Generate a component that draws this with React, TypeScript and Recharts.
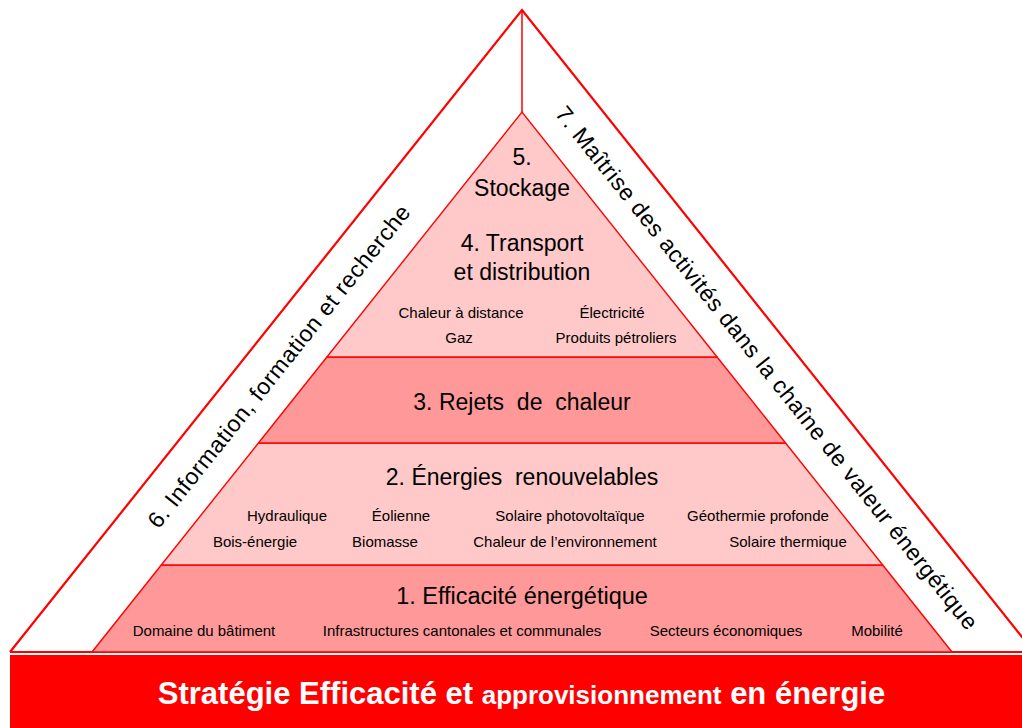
import React from 'react';
import { ComposedChart, XAxis, YAxis, Area, Scatter, ReferenceLine, ReferenceArea } from 'recharts';

// ---------- content ----------
const strategyTitle = ['Stratégie Efficacité et', 'approvisionnement', 'en énergie'];
const sideLeft = '6. Information, formation et recherche';
const sideRight = '7. Maîtrise des activités dans la chaîne de valeur énergétique';

// layers from base to apex; boundaries are heights above the pyramid base (diagram units)
const layerNames = ['1. Efficacité énergétique', '2. Énergies  renouvelables', '3. Rejets  de  chaleur', '4. Transport|et distribution'];
const layerBounds = [0, 87, 209, 295, 540];
const layerShades = ['dark', 'light', 'dark', 'light'];
const apexTitle = ['5.', 'Stockage'];

const efficiencyItems = ['Domaine du bâtiment', 'Infrastructures cantonales et communales', 'Secteurs économiques', 'Mobilité'];
const renewablesRow1 = ['Hydraulique', 'Éolienne', 'Solaire photovoltaïque', 'Géothermie profonde'];
const renewablesRow2 = ['Bois-énergie', 'Biomasse', 'Chaleur de l\u2019environnement', 'Solaire thermique'];
const transportRow1 = ['Chaleur à distance', 'Électricité'];
const transportRow2 = ['Gaz', 'Produits pétroliers'];

// ---------- layout (diagram units: origin at centre of pyramid base, y upwards) ----------
const W = 1022;
const H = 728;
const X_DOMAIN: [number, number] = [-522, 500];
const Y_DOMAIN: [number, number] = [-76, 652];
const PYR_H = 540;
const PYR_HALF = 430;
const FRAME_H = 642;
const FRAME_HALF = 512;
const BAR = { x1: -512, x2: 500, y1: -76, y2: -3 };

const efficiencyX = [-318, -60, 204, 355];
const renew1X = [-235, -121, 48, 236];
const renew2X = [-267, -137, 43, 266];
const transport1X = [-61, 90];
const transport2X = [-63, 94];

const COLORS = { dark: '#ff9999', light: '#ffc9c9', red: '#ff0000' };
const FONT = '"Liberation Sans", Arial, Helvetica, sans-serif';
const ANGLE = (Math.atan2(FRAME_H, FRAME_HALF) * 180) / Math.PI;

const halfAt = (h: number) => PYR_HALF * (1 - h / PYR_H);

const layerPolys = layerNames.map((_, i) => {
  const b = layerBounds[i];
  const t = layerBounds[i + 1];
  return [
    { x: -halfAt(b), r: [b, b] },
    { x: -halfAt(t), r: [b, t] },
    { x: halfAt(t), r: [b, t] },
    { x: halfAt(b), r: [b, b] },
  ];
});

const frame = [
  { x: -FRAME_HALF, r: [0, 0] },
  { x: 0, r: [0, FRAME_H] },
  { x: FRAME_HALF, r: [0, 0] },
];

type Lbl = { x: number; y: number; text: string | string[]; size: number; kind?: string; rot?: number };

const labels: Lbl[] = [
  { x: 0, y: 487, text: apexTitle[0], size: 23 },
  { x: 0, y: 456, text: apexTitle[1], size: 23 },
  { x: 0, y: 401, text: layerNames[3].split('|')[0], size: 23 },
  { x: 0, y: 372, text: layerNames[3].split('|')[1], size: 23 },
  ...transportRow1.map((t, i) => ({ x: transport1X[i], y: 334, text: t, size: 15 })),
  ...transportRow2.map((t, i) => ({ x: transport2X[i], y: 309, text: t, size: 15 })),
  { x: 0, y: 242.5, text: layerNames[2], size: 23 },
  { x: 0, y: 167, text: layerNames[1], size: 23 },
  ...renewablesRow1.map((t, i) => ({ x: renew1X[i], y: 131, text: t, size: 15 })),
  ...renewablesRow2.map((t, i) => ({ x: renew2X[i], y: 105, text: t, size: 15 })),
  { x: 0, y: 48, text: layerNames[0], size: 23.5 },
  ...efficiencyItems.map((t, i) => ({ x: efficiencyX[i], y: 16, text: t, size: 15 })),
];

const sideLabels: Lbl[] = [
  { x: -243, y: 286, text: sideLeft, size: 23, rot: -ANGLE },
  { x: 245, y: 284, text: sideRight, size: 23, rot: ANGLE },
];

const barLabel: Lbl[] = [{ x: -0.5, y: -52, text: strategyTitle, size: 31, kind: 'bar' }];

const TextShape = (props: any) => {
  const { cx, cy, payload } = props;
  if (cx == null || cy == null) return null;
  const p = payload as Lbl;
  if (p.kind === 'bar') {
    const t = p.text as string[];
    return (
      <text x={cx} y={cy} textAnchor="middle" fill="#ffffff" fontFamily={FONT} fontWeight="bold" fontSize={p.size}>
        <tspan>{t[0] + ' '}</tspan>
        <tspan fontSize={26}>{t[1]}</tspan>
        <tspan>{' ' + t[2]}</tspan>
      </text>
    );
  }
  if (p.rot) {
    return (
      <text
        x={cx}
        y={cy}
        textAnchor="middle"
        dominantBaseline="central"
        transform={`rotate(${p.rot}, ${cx}, ${cy})`}
        fill="#000"
        fontFamily={FONT}
        fontSize={p.size}
        letterSpacing={0.6}
      >
        {p.text as string}
      </text>
    );
  }
  return (
    <text x={cx} y={cy} textAnchor="middle" fill="#000" fontFamily={FONT} fontSize={p.size} style={{ whiteSpace: 'pre' }}>
      {p.text as string}
    </text>
  );
};

export default function App() {
  return (
    <div style={{ position: 'absolute', left: 0, top: 0, width: W, height: H, background: '#fff' }}>
      <ComposedChart width={W} height={H} margin={{ top: 0, right: 0, bottom: 0, left: 0 }}>
        <XAxis type="number" dataKey="x" domain={X_DOMAIN} allowDataOverflow hide />
        <YAxis type="number" domain={Y_DOMAIN} allowDataOverflow hide />
        <Area
          data={frame}
          dataKey="r"
          type="linear"
          fill="#ffffff"
          fillOpacity={1}
          stroke={COLORS.red}
          strokeWidth={2.2}
          isAnimationActive={false}
          dot={false}
          activeDot={false}
        />
        <ReferenceLine
          segment={[
            { x: 0, y: PYR_H },
            { x: 0, y: FRAME_H },
          ]}
          stroke={COLORS.red}
          strokeWidth={1.5}
          ifOverflow="visible"
        />
        {layerPolys.map((poly, i) => (
          <Area
            key={i}
            data={poly}
            dataKey="r"
            type="linear"
            fill={COLORS[layerShades[i] as 'dark' | 'light']}
            fillOpacity={1}
            stroke={COLORS.red}
            strokeWidth={1.4}
            isAnimationActive={false}
            dot={false}
            activeDot={false}
          />
        ))}
        <ReferenceArea
          x1={BAR.x1}
          x2={BAR.x2}
          y1={BAR.y1}
          y2={BAR.y2}
          fill={COLORS.red}
          fillOpacity={1}
          stroke="none"
          ifOverflow="visible"
        />
        <Scatter data={labels} dataKey="y" shape={TextShape} isAnimationActive={false} />
        <Scatter data={sideLabels} dataKey="y" shape={TextShape} isAnimationActive={false} />
        <Scatter data={barLabel} dataKey="y" shape={TextShape} isAnimationActive={false} />
      </ComposedChart>
    </div>
  );
}
